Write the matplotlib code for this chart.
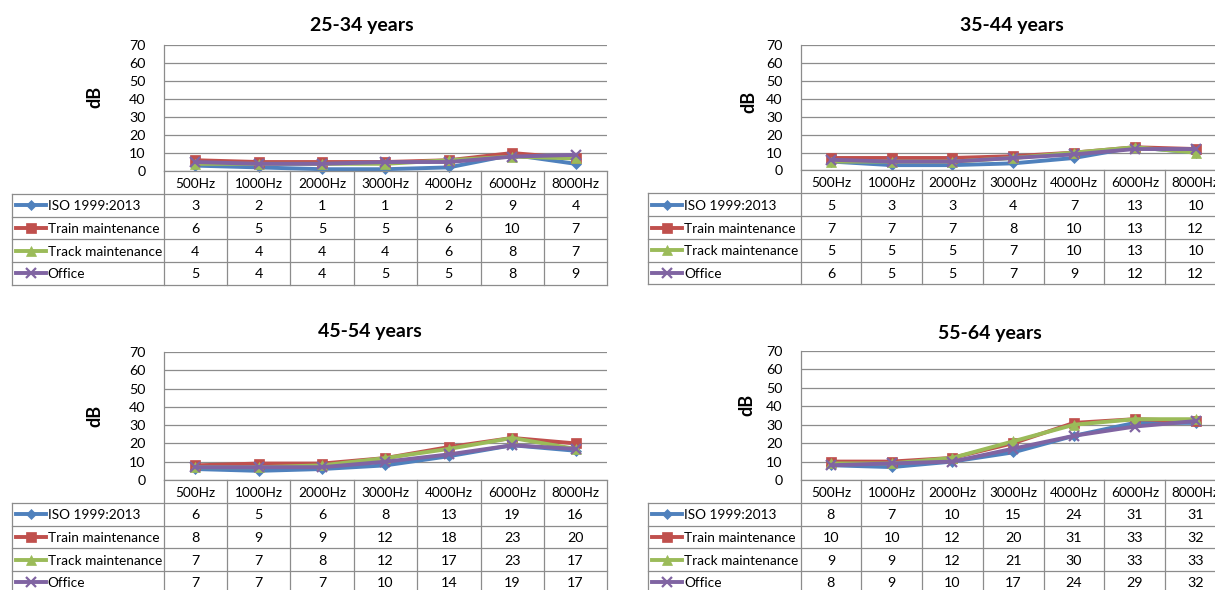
# hearing thresholds by age group - line charts with data tables
import matplotlib
matplotlib.use("Agg")
import matplotlib.pyplot as plt

plt.rcParams['font.family'] = ['Lato', 'DejaVu Sans']

freqs = ["500Hz", "1000Hz", "2000Hz", "3000Hz", "4000Hz", "6000Hz", "8000Hz"]
series_names = ["ISO 1999:2013", "Train maintenance", "Track maintenance", "Office"]

age_titles = ["25-34 years", "35-44 years", "45-54 years", "55-64 years"]

iso_25 = [3, 2, 1, 1, 2, 9, 4]
train_25 = [6, 5, 5, 5, 6, 10, 7]
track_25 = [4, 4, 4, 4, 6, 8, 7]
office_25 = [5, 4, 4, 5, 5, 8, 9]

iso_35 = [5, 3, 3, 4, 7, 13, 10]
train_35 = [7, 7, 7, 8, 10, 13, 12]
track_35 = [5, 5, 5, 7, 10, 13, 10]
office_35 = [6, 5, 5, 7, 9, 12, 12]

iso_45 = [6, 5, 6, 8, 13, 19, 16]
train_45 = [8, 9, 9, 12, 18, 23, 20]
track_45 = [7, 7, 8, 12, 17, 23, 17]
office_45 = [7, 7, 7, 10, 14, 19, 17]

iso_55 = [8, 7, 10, 15, 24, 31, 31]
train_55 = [10, 10, 12, 20, 31, 33, 32]
track_55 = [9, 9, 12, 21, 30, 33, 33]
office_55 = [8, 9, 10, 17, 24, 29, 32]

panel_data = [
    [iso_25, train_25, track_25, office_25],
    [iso_35, train_35, track_35, office_35],
    [iso_45, train_45, track_45, office_45],
    [iso_55, train_55, track_55, office_55],
]

colors = ["#4F81BD", "#C0504D", "#9BBB59", "#8064A2"]
markers = ["D", "s", "^", "x"]
msizes = [5.5, 7, 7, 7.5]

W, H = 1215, 590

# pixel layout of each panel: plot left, right, top (70), bottom (0), table left, title x/y, dB x / y frac
layouts = [
    dict(left=163.5, right=607.3, top=45.3, bottom=171.0, tleft=11.7, tx=362, ty=25, dbx=103, dby=0.59),
    dict(left=800.5, right=1226.0, top=45.3, bottom=170.5, tleft=648.0, tx=1012, ty=25, dbx=757, dby=0.55),
    dict(left=163.5, right=607.3, top=352.0, bottom=480.0, tleft=11.7, tx=370, ty=332, dbx=103, dby=0.50),
    dict(left=800.5, right=1226.0, top=351.0, bottom=480.0, tleft=648.0, tx=990, ty=334, dbx=755, dby=0.58),
]

header_h = 23.0
row_h = 22.7
grid_col = "#8C8C8C"
fs = 9.8

fig = plt.figure(figsize=(W / 100, H / 100), dpi=100)


def fig_rect(l, t, r, b):
    return [l / W, 1 - b / H, (r - l) / W, (b - t) / H]


for p in range(4):
    lay = layouts[p]
    data = panel_data[p]
    colw = (lay["right"] - lay["left"]) / 7.0

    ax = fig.add_axes(fig_rect(lay["left"], lay["top"], lay["right"], lay["bottom"]))
    ax.set_xlim(-0.5, 6.5)
    ax.set_ylim(0, 70)
    ax.set_yticks(range(0, 71, 10))
    ax.set_xticks([])
    ax.tick_params(axis="y", length=0, pad=13, labelsize=fs + 0.5)
    ax.grid(axis="y", color=grid_col, lw=0.9)
    ax.set_axisbelow(True)
    for s in ["top", "right", "bottom"]:
        ax.spines[s].set_visible(False)
    ax.spines["left"].set_color(grid_col)
    ax.spines["left"].set_linewidth(0.9)
    ax.set_ylabel("dB", fontsize=13, fontweight="bold")
    ax.yaxis.set_label_coords((lay["dbx"] - lay["left"]) / (lay["right"] - lay["left"]), lay["dby"])

    for i in range(4):
        ax.plot(range(7), data[i], color=colors[i], lw=2.8, marker=markers[i], ms=msizes[i],
                mew=1.6 if markers[i] == "x" else 0.5, mec=colors[i], clip_on=False, zorder=3 + i)

    fig.text(lay["tx"] / W, 1 - lay["ty"] / H, age_titles[p], ha="center", va="center",
             fontsize=14, fontweight="bold")

    # data table under the plot
    total_h = header_h + 4 * row_h
    tax = fig.add_axes(fig_rect(lay["tleft"], lay["bottom"], lay["right"], lay["bottom"] + total_h))
    x0 = -0.5 - (lay["left"] - lay["tleft"]) / colw
    tax.set_xlim(x0, 6.5)
    tax.set_ylim(total_h, 0)
    tax.axis("off")

    lk = dict(color=grid_col, lw=0.9, clip_on=False)
    for k in range(8):
        tax.plot([-0.5 + k, -0.5 + k], [0, total_h], **lk)
    tax.plot([x0, x0], [header_h, total_h], **lk)
    tax.plot([-0.5, 6.5], [0, 0], **lk)
    for r in range(5):
        y = header_h + r * row_h
        tax.plot([x0, 6.5], [y, y], **lk)

    for j in range(7):
        tax.text(j, header_h / 2 + 1, freqs[j], ha="center", va="center", fontsize=fs)
        for i in range(4):
            tax.text(j, header_h + (i + 0.5) * row_h + 1, str(data[i][j]), ha="center", va="center",
                     fontsize=fs + 0.5)

    for i in range(4):
        yc = header_h + (i + 0.5) * row_h
        ka = x0 + 4 / colw
        kb = x0 + 34 / colw
        tax.plot([ka, kb], [yc, yc], color=colors[i], lw=2.8, clip_on=False)
        tax.plot([(ka + kb) / 2], [yc], color=colors[i], marker=markers[i], ms=msizes[i],
                 mew=1.6 if markers[i] == "x" else 0.5, mec=colors[i], clip_on=False)
        tax.text(x0 + 36 / colw, yc + 1, series_names[i], ha="left", va="center", fontsize=fs)

fig.savefig("out.png", dpi=100)
